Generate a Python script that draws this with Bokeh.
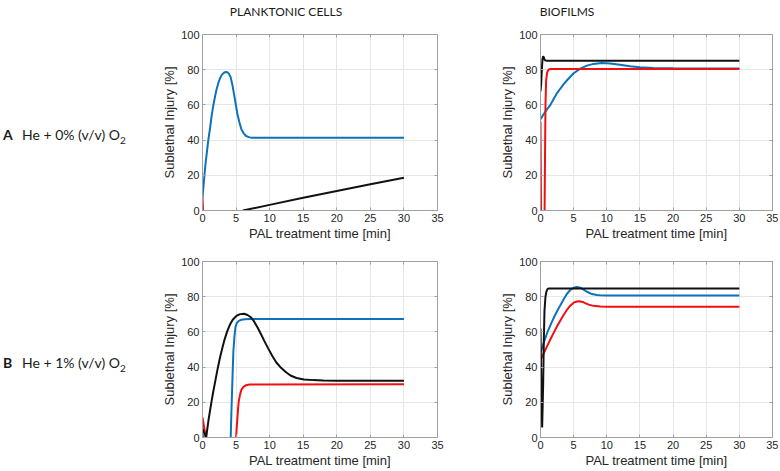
from bokeh.plotting import figure
from bokeh.layouts import column, row
from bokeh.models import Div, Spacer, Range1d, FixedTicker, LinearAxis
from bokeh.embed import file_html
from bokeh.resources import INLINE

nan = float("nan")

# ---------------- data ----------------
col_titles = ["PLANKTONIC CELLS", "BIOFILMS"]
row_letters = ["A", "B"]
row_texts = ["He + 0% (v/v) O", "He + 1% (v/v) O"]
x_ticks = [0, 5, 10, 15, 20, 25, 30, 35]
y_ticks = [0, 20, 40, 60, 80, 100]
x_label = "PAL treatment time [min]"
y_label = "Sublethal Injury [%]"

# A - planktonic
a_pl_blue_t = [0, 0.15, 0.3, 0.45, 0.64, 0.85, 1.13, 1.35, 1.6, 1.85, 2.1, 2.35, 2.6, 2.9, 3.24, 3.5,
               3.7, 3.95, 4.2, 4.45, 4.7, 4.95, 5.2, 5.5, 5.8, 6.15, 6.5, 6.9, 7.25, 8, 10, 15, 20, 25, 30]
a_pl_blue_y = [7.2, 14, 20.5, 26.5, 32.8, 39.5, 47, 53.5, 59.4, 64.5, 68.9, 72.3, 75, 77.2, 78.4, 78.7,
               78.6, 77.6, 75.6, 71.5, 66, 60.5, 54.8, 50, 46, 43.7, 42.3, 41.7, 41.4, 41.4, 41.4, 41.4, 41.4, 41.4, 41.4]
a_pl_red_t = [0, 0.08]
a_pl_red_y = [7.5, 0]
a_pl_black_t = [6, 10, 15, 20, 25, 30]
a_pl_black_y = [0, 3.2, 7.2, 11.1, 14.9, 18.6]

# A - biofilms
a_bf_blue_t = [0, 0.5, 1, 1.5, 2, 2.5, 3, 3.5, 4, 5, 6, 7, 8, 9.25, 10.5, 12, 13.5, 15, 17, 20, 25, 30]
a_bf_blue_y = [51.8, 54.8, 57.6, 60, 63.5, 66.7, 69.3, 71.8, 74, 78, 80.6, 82.3, 83.3, 83.8, 83.5, 82.8,
               82, 81.4, 81, 80.8, 80.7, 80.7]
a_bf_red_t = [0, 0.08, nan, 0.62, 0.68, 0.75, 0.85, 1.0, 1.2, 1.5, 30]
a_bf_red_y = [50.5, 0, nan, 0, 30, 60, 74, 78.5, 80, 80.4, 80.4]
a_bf_black_t = [0, 0.1, 0.2, 0.3, 0.4, 0.5, 0.6, 0.75, 1, 30]
a_bf_black_y = [67.6, 72, 80, 86, 87.6, 87, 85.8, 85.2, 85.1, 85.1]

# B - planktonic
b_pl_blue_t = [0, 0.1, nan, 4.2, 4.3, 4.4, 4.5, 4.6, 4.75, 4.9, 5.1, 5.4, 5.8, 6.3, 7, 30]
b_pl_blue_y = [2.5, 0, nan, 0, 14, 26, 38, 49, 57, 62.5, 65, 66.3, 66.9, 67.2, 67.3, 67.3]
b_pl_red_t = [0, 0.5, nan, 5.0, 5.1, 5.2, 5.3, 5.4, 5.6, 5.8, 6.1, 6.5, 7, 30]
b_pl_red_y = [11.4, 0, nan, 0, 6, 11, 16.5, 20.6, 24.5, 27.2, 28.8, 29.7, 30.1, 30.2]
b_pl_black_t = [0, 0.55, 0.7, 0.9, 1.13, 1.35, 1.6, 1.86, 2.2, 2.6, 3.0, 3.33, 3.7, 4.07, 4.5, 5.05, 5.6,
                6.2, 6.7, 7.25, 7.7, 8.2, 8.7, 9.2, 9.8, 10.4, 11, 11.7, 12.4, 13.1, 14, 15.1, 16.5, 18,
                20, 25, 30]
b_pl_black_y = [5, 0, 4.5, 10, 15.5, 20.5, 26, 31.2, 38, 45.3, 51.5, 56.2, 60.6, 64, 66.9, 69.1, 70.1,
                70.3, 69.6, 68.2, 65.8, 62.5, 58.8, 54.9, 50.5, 46.3, 42.6, 39.6, 37.2, 35.2, 33.8, 33,
                32.6, 32.4, 32.3, 32.2, 32.2]

# B - biofilms
b_bf_blue_t = [0, 0.5, 1, 1.5, 2, 2.5, 3, 3.5, 4, 4.5, 5, 5.5, 6, 6.5, 7, 7.75, 8.5, 9, 10, 12, 15, 20, 30]
b_bf_blue_y = [48, 54, 59.4, 63.8, 68, 71.7, 75.2, 78.5, 81.7, 83.8, 85.1, 85.5, 85.1, 84, 82.8, 81.5,
               81, 80.8, 80.7, 80.7, 80.7, 80.7, 80.7]
b_bf_red_t = [0, 0.5, 1, 1.5, 2, 2.5, 3, 3.5, 4, 4.5, 5, 5.5, 5.9, 6.5, 7.25, 8, 9, 10, 12, 15, 20, 30]
b_bf_red_y = [44, 48, 51.9, 55.8, 59.6, 63.2, 66.5, 69.7, 72.6, 74.9, 76.6, 77.3, 77.4, 76.8, 75.5,
              74.8, 74.5, 74.3, 74.3, 74.3, 74.3, 74.3]
b_bf_black_t = [0, 0.1, 0.25, 0.4, 0.5, 0.6, 0.75, 0.9, 1.05, 1.25, 30]
b_bf_black_y = [61.9, 35, 5.7, 30, 55, 72, 80, 83, 84.3, 84.7, 84.7]

BLUE = "#0b72bb"
RED = "#f01010"
BLACK = "#111111"
FRAME = "#a0a0a0"
TXT = "#262626"
FONT = "Liberation Sans"


def make_fig(series, fw, mbl, mbr, mbt, mbb):
    p = figure(frame_width=fw, frame_height=176, x_range=Range1d(0, 35), y_range=Range1d(0, 100),
               output_backend="svg", toolbar_location=None,
               min_border_left=mbl, min_border_right=mbr, min_border_top=mbt, min_border_bottom=mbb,
               margin=0)
    p.outline_line_color = FRAME
    p.outline_line_width = 1
    p.background_fill_color = "white"
    p.border_fill_color = "white"
    for ax in (p.xaxis[0], p.yaxis[0]):
        ax.axis_line_color = FRAME
        ax.major_tick_line_color = FRAME
        ax.major_tick_in = 3
        ax.major_tick_out = 0
        ax.minor_tick_line_color = None
        ax.major_label_text_font = FONT
        ax.major_label_text_font_size = "11px"
        ax.major_label_text_color = TXT
        ax.axis_label_text_font = FONT
        ax.axis_label_text_font_size = "13px"
        ax.axis_label_text_font_style = "normal"
        ax.axis_label_text_color = TXT
        ax.major_label_standoff = 3
    p.xaxis.ticker = FixedTicker(ticks=x_ticks)
    p.yaxis.ticker = FixedTicker(ticks=y_ticks)
    p.xaxis.axis_label = x_label
    p.yaxis.axis_label = y_label
    p.xaxis.axis_label_standoff = 1
    p.yaxis.axis_label_standoff = 1
    p.xgrid.grid_line_color = "#e6e6e6"
    p.ygrid.grid_line_color = "#e6e6e6"
    # box ticks on top and right (MATLAB style)
    for side, ticks in (("above", x_ticks), ("right", y_ticks)):
        bx = LinearAxis(ticker=FixedTicker(ticks=ticks), axis_line_color=FRAME,
                        major_tick_line_color=FRAME, major_tick_in=3, major_tick_out=0,
                        minor_tick_line_color=None, major_label_text_font_size="0px",
                        major_label_standoff=0, major_label_text_alpha=0)
        p.add_layout(bx, side)
    for t, y, c in series:
        p.line(t, y, line_color=c, line_width=2)
    return p


fig_a_pl = make_fig([(a_pl_blue_t, a_pl_blue_y, BLUE), (a_pl_red_t, a_pl_red_y, RED),
                     (a_pl_black_t, a_pl_black_y, BLACK)], 235, 52, 51, 12, 38)
fig_a_bf = make_fig([(a_bf_blue_t, a_bf_blue_y, BLUE), (a_bf_red_t, a_bf_red_y, RED),
                     (a_bf_black_t, a_bf_black_y, BLACK)], 232, 52, 6, 12, 38)
fig_b_pl = make_fig([(b_pl_blue_t, b_pl_blue_y, BLUE), (b_pl_red_t, b_pl_red_y, RED),
                     (b_pl_black_t, b_pl_black_y, BLACK)], 235, 52, 51, 13, 32)
fig_b_bf = make_fig([(b_bf_blue_t, b_bf_blue_y, BLUE), (b_bf_red_t, b_bf_red_y, RED),
                     (b_bf_black_t, b_bf_black_y, BLACK)], 232, 52, 6, 13, 32)

title_style = ("width:200px;margin-top:4px;line-height:16px;font-family:Lato;font-size:12px;"
               "color:#1a1a1a;text-align:center;white-space:nowrap;")
t1 = Div(text=f'<div style="{title_style}">{col_titles[0]}</div>', width=200, height=22, margin=0)
t2 = Div(text=f'<div style="{title_style}">{col_titles[1]}</div>', width=200, height=22, margin=0)
title_row = row(Spacer(width=186, height=22, margin=0), t1, Spacer(width=81, height=22, margin=0), t2,
                spacing=0, margin=0)


def row_label(letter, txt, top, h):
    html = (f'<div style="margin-top:{top}px;padding-left:3px;line-height:17px;font-family:Lato;'
            f'font-size:14px;color:#1a1a1a;white-space:nowrap;">'
            f'<span style="font-weight:bold;display:inline-block;width:19px;">{letter}</span>'
            f'{txt}<sub style="font-size:10px;">2</sub></div>')
    return Div(text=html, width=150, height=h, margin=0)


lab_a = row_label(row_letters[0], row_texts[0], 104, 226)
lab_b = row_label(row_letters[1], row_texts[1], 106, 221)

layout = column(title_row,
                row(lab_a, fig_a_pl, fig_a_bf, spacing=0, margin=0),
                row(lab_b, fig_b_pl, fig_b_bf, spacing=0, margin=0),
                spacing=0, margin=0)

open("out.html", "w").write(file_html(layout, INLINE, title="Sublethal injury"))
